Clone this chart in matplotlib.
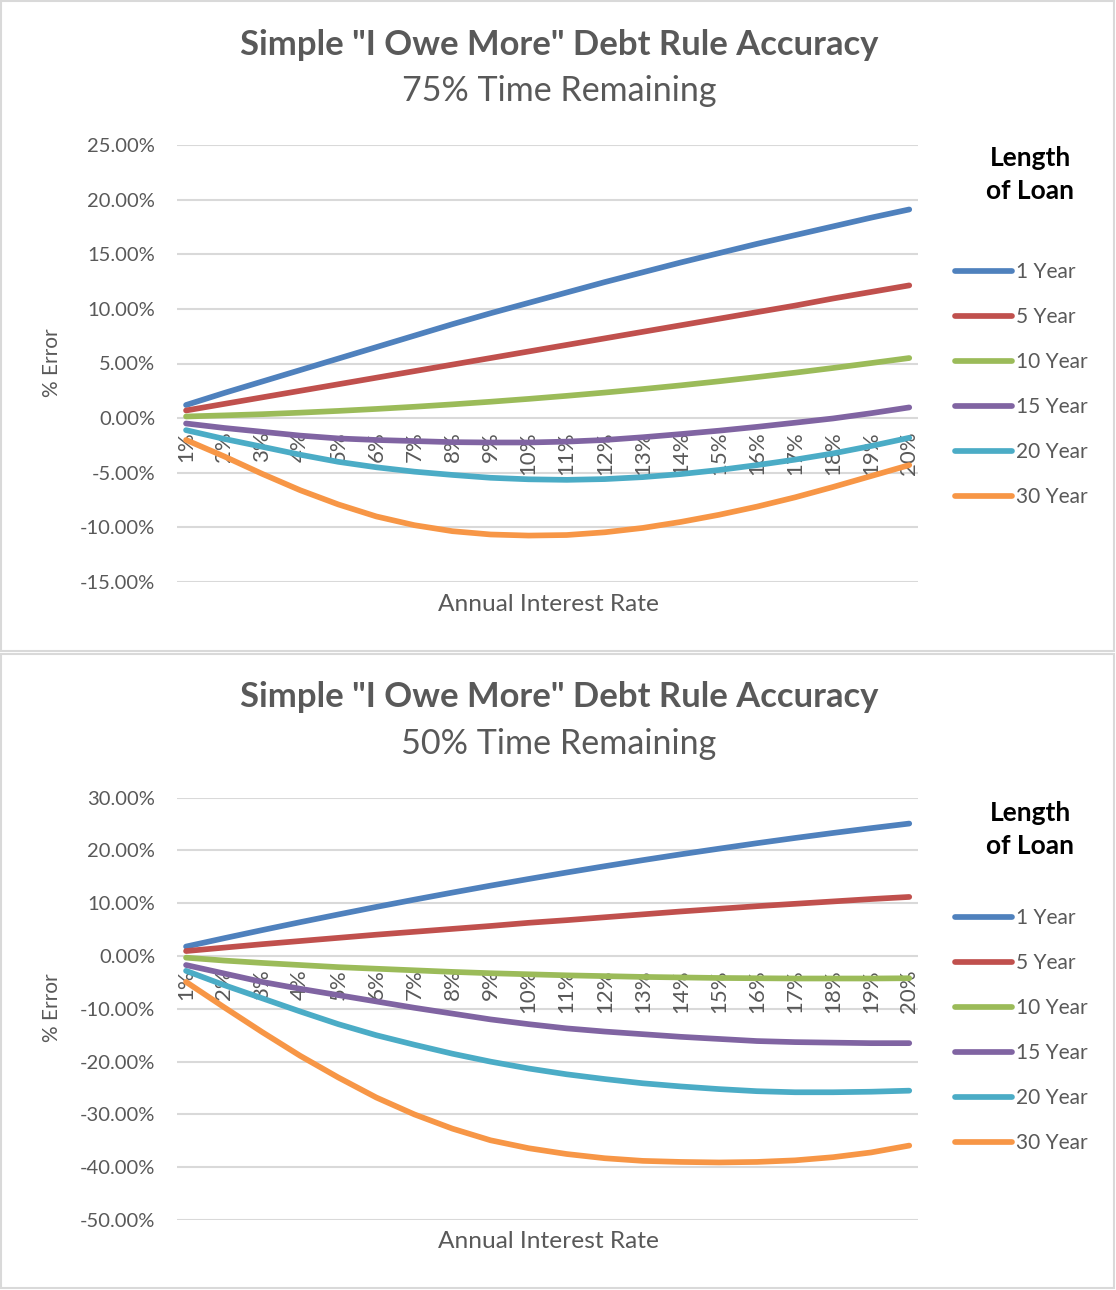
import matplotlib
matplotlib.use("Agg")
import matplotlib.pyplot as plt
from matplotlib.patches import Rectangle
from matplotlib.transforms import ScaledTranslation

# ---------------- data ----------------
rates = ["1%", "2%", "3%", "4%", "5%", "6%", "7%", "8%", "9%", "10%",
         "11%", "12%", "13%", "14%", "15%", "16%", "17%", "18%", "19%", "20%"]
loan_lengths = ["1 Year", "5 Year", "10 Year", "15 Year", "20 Year", "30 Year"]

# 75% time remaining (% error)
top_1yr = [1.2, 2.3, 3.35, 4.4, 5.45, 6.5, 7.55, 8.6, 9.6, 10.55, 11.5, 12.45, 13.35, 14.25, 15.1, 15.95, 16.75, 17.55, 18.35, 19.1]
top_5yr = [0.7, 1.3, 1.9, 2.5, 3.1, 3.7, 4.3, 4.9, 5.5, 6.1, 6.7, 7.3, 7.9, 8.5, 9.1, 9.7, 10.3, 10.95, 11.55, 12.15]
top_10yr = [0.15, 0.25, 0.36, 0.5, 0.66, 0.84, 1.04, 1.26, 1.5, 1.76, 2.04, 2.34, 2.66, 3.0, 3.37, 3.76, 4.16, 4.59, 5.04, 5.5]
top_15yr = [-0.49, -0.9, -1.25, -1.6, -1.86, -2.0, -2.1, -2.2, -2.23, -2.23, -2.15, -2.0, -1.75, -1.46, -1.15, -0.8, -0.42, -0.03, 0.45, 0.98]
top_20yr = [-1.1, -1.9, -2.62, -3.35, -4.0, -4.5, -4.9, -5.2, -5.46, -5.6, -5.65, -5.58, -5.4, -5.12, -4.75, -4.3, -3.8, -3.23, -2.55, -1.8]
top_30yr = [-2.0, -3.5, -5.1, -6.6, -7.9, -9.0, -9.8, -10.35, -10.65, -10.75, -10.7, -10.45, -10.05, -9.5, -8.85, -8.1, -7.25, -6.3, -5.3, -4.3]

# 50% time remaining (% error)
bot_1yr = [1.8, 3.38, 4.92, 6.42, 7.88, 9.31, 10.69, 12.03, 13.34, 14.6, 15.83, 17.02, 18.17, 19.28, 20.34, 21.38, 22.37, 23.32, 24.23, 25.1]
bot_5yr = [0.95, 1.6, 2.25, 2.85, 3.45, 4.05, 4.6, 5.15, 5.7, 6.3, 6.8, 7.35, 7.9, 8.45, 8.95, 9.45, 9.9, 10.35, 10.8, 11.2]
bot_10yr = [-0.3, -0.85, -1.3, -1.7, -2.1, -2.4, -2.7, -3.0, -3.25, -3.45, -3.65, -3.8, -3.95, -4.05, -4.15, -4.2, -4.25, -4.25, -4.25, -4.2]
bot_15yr = [-1.7, -3.3, -4.9, -6.2, -7.4, -8.6, -9.8, -10.9, -12.0, -12.9, -13.7, -14.3, -14.8, -15.3, -15.7, -16.1, -16.3, -16.4, -16.5, -16.5]
bot_20yr = [-2.8, -5.5, -8.0, -10.5, -12.9, -15.0, -16.8, -18.5, -20.0, -21.3, -22.4, -23.3, -24.1, -24.7, -25.2, -25.6, -25.8, -25.8, -25.7, -25.5]
bot_30yr = [-4.9, -9.7, -14.4, -18.9, -23.0, -26.8, -30.0, -32.7, -34.9, -36.4, -37.5, -38.3, -38.8, -39.0, -39.1, -39.0, -38.7, -38.1, -37.2, -35.9]

top_yticks = [25, 20, 15, 10, 5, 0, -5, -10, -15]
bot_yticks = [30, 20, 10, 0, -10, -20, -30, -40, -50]

title_text = 'Simple "I Owe More" Debt Rule Accuracy'
top_subtitle = "75% Time Remaining"
bot_subtitle = "50% Time Remaining"
x_title = "Annual Interest Rate"
y_title = "% Error"
legend_title = "Length\nof Loan"

colors = ["#4F81BD", "#C0504D", "#9BBB59", "#8064A2", "#4BACC6", "#F79646"]

# ---------------- figure ----------------
W, H = 1116, 1290
DPI = 100
plt.rcParams["font.family"] = ["Lato", "DejaVu Sans"]
fig = plt.figure(figsize=(W / DPI, H / DPI), dpi=DPI)
renderer = fig.canvas.get_renderer()
GREY = "#595959"


def fy(y):
    return 1 - y / H


def fit_width(txt, target_px):
    for _ in range(4):
        bb = txt.get_window_extent(renderer=renderer)
        if bb.width > 0:
            txt.set_fontsize(txt.get_fontsize() * target_px / bb.width)


def panel(box, ax_rect, ylim, yticks, series, subtitle, ty, sty, ylab_y, xlab_y, leg_title_y, leg_top):
    # border
    fig.add_artist(Rectangle((box[0] / W, fy(box[3])), (box[2] - box[0]) / W, (box[3] - box[1]) / H,
                             transform=fig.transFigure, fill=False, ec="#d9d9d9", lw=1.5))
    x0, y0, x1, y1 = ax_rect
    ax = fig.add_axes([x0 / W, fy(y1), (x1 - x0) / W, (y1 - y0) / H])
    xs = list(range(1, len(rates) + 1))
    for name, vals, c in zip(loan_lengths, series, colors):
        ax.plot(xs, vals, color=c, lw=4.1, solid_capstyle="round", solid_joinstyle="round",
                label=name, zorder=3)
    ax.set_xlim(0.77, 20.23)
    ax.set_ylim(*ylim)
    ax.set_yticks(yticks)
    ax.set_yticklabels([f"{v:.2f}%" for v in yticks])
    ax.yaxis.grid(True, color="#d9d9d9", lw=1.5)
    ax.set_axisbelow(True)
    ax.set_xticks([])
    for s in ax.spines.values():
        s.set_visible(False)
    ax.tick_params(axis="y", length=0, pad=16, labelsize=14.5, labelcolor=GREY)
    off = ScaledTranslation(0, -13 / DPI, fig.dpi_scale_trans)
    for x, lab in zip(xs, rates):
        ax.text(x, 0, lab, rotation=90, ha="center", va="top", fontsize=16,
                color=GREY, transform=ax.transData + off, zorder=2)
    # titles
    t = fig.text(559 / W, fy(ty), title_text, ha="center", va="center",
                 fontsize=24, fontweight="bold", color=GREY)
    fit_width(t, 638)
    st = fig.text(559 / W, fy(sty), subtitle, ha="center", va="center", fontsize=24, color=GREY)
    fit_width(st, 315)
    xl = fig.text(548 / W, fy(xlab_y), x_title, ha="center", va="center", fontsize=15, color=GREY)
    fit_width(xl, 221)
    fig.text(52 / W, fy(ylab_y), y_title, ha="center", va="center", rotation=90,
             fontsize=15, color=GREY)
    # legend
    fig.text(1030 / W, fy(leg_title_y), legend_title, ha="center", va="center",
             fontsize=19, fontweight="bold", color="black", multialignment="center",
             linespacing=1.45)
    ax.legend(loc="upper left", bbox_to_anchor=(955 / W, fy(leg_top)), bbox_transform=fig.transFigure,
              frameon=False, fontsize=15, labelcolor=GREY, handlelength=2.75, handletextpad=0.2,
              labelspacing=1.2, borderpad=0, borderaxespad=0)
    return ax


panel((1, 1, 1114, 651), (177.3, 145, 918, 582), (-15, 25), top_yticks,
      [top_1yr, top_5yr, top_10yr, top_15yr, top_20yr, top_30yr], top_subtitle,
      45, 91, 363, 604, 174.5, 262)
panel((1, 654, 1114, 1288), (177.3, 797.7, 918, 1220), (-50, 30), bot_yticks,
      [bot_1yr, bot_5yr, bot_10yr, bot_15yr, bot_20yr, bot_30yr], bot_subtitle,
      697, 744, 1008, 1242, 829.5, 908)

fig.savefig("out.png", dpi=DPI, facecolor="white")
